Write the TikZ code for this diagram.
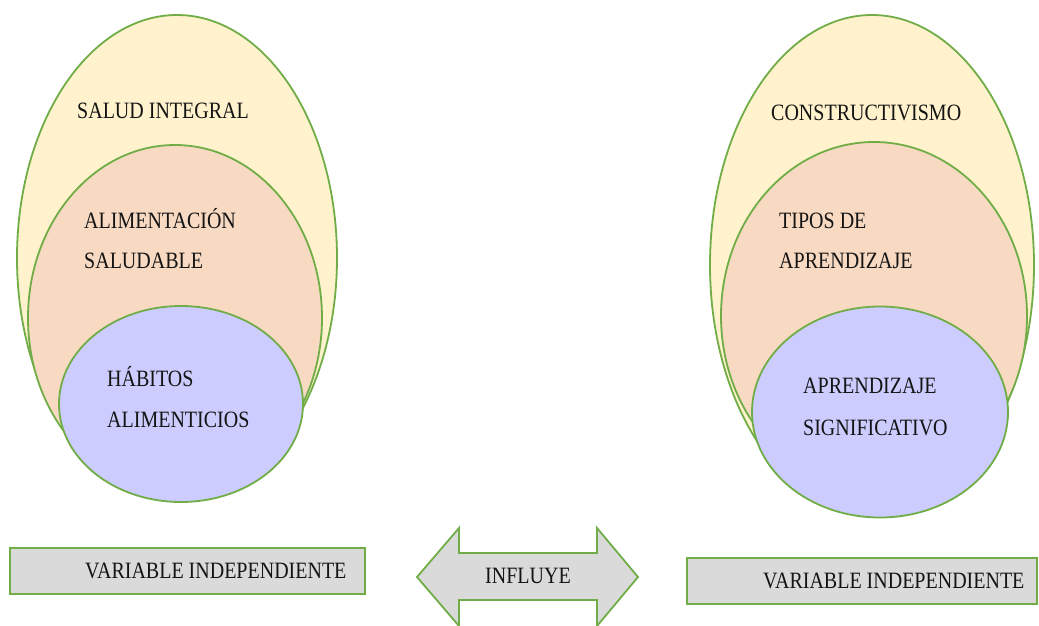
\documentclass[tikz,border=0pt]{standalone}
\usepackage{fontspec}
\setmainfont{Liberation Serif}
\usetikzlibrary{shapes.geometric}
\definecolor{outerfill}{HTML}{FFF2CC}
\definecolor{midfill}{HTML}{F8DAC3}
\definecolor{innerfill}{HTML}{CCCCFF}
\definecolor{edgegreen}{HTML}{70AD47}
\definecolor{boxfill}{HTML}{DADADA}
\newcommand{\tall}[1]{\scalebox{1}[1.17]{#1}}
\tikzset{
  ell/.style={ellipse, draw=edgegreen, line width=1.8pt, inner sep=0pt},
  lbl/.style={anchor=base west, inner sep=0pt, font=\fontsize{20}{24}\selectfont, text=black!92},
  varbox/.style={draw=edgegreen, line width=1.8pt, fill=boxfill},
}
\begin{document}
\begin{tikzpicture}[x=1pt,y=-1pt]
\useasboundingbox (0,0) rectangle (1039,626);
% left group
\node[ell, fill=outerfill, minimum width=320pt, minimum height=486pt] (lout) at (177,258) {};
\node[ell, fill=midfill, minimum width=294pt, minimum height=346pt] (lmid) at (175,318) {};
\node[ell, fill=innerfill, minimum width=244pt, minimum height=196pt] (lin) at (181,404) {};
\node[lbl] (t1) at (77,118) {\tall{SALUD INTEGRAL}};
\node[lbl] (t2) at (84,228) {\tall{ALIMENTACIÓN}};
\node[lbl] (t3) at (84,268) {\tall{SALUDABLE}};
\node[lbl] (t4) at (107,386) {\tall{HÁBITOS}};
\node[lbl] (t5) at (107,427) {\tall{ALIMENTICIOS}};
% right group
\node[ell, fill=outerfill, minimum width=324pt, minimum height=500pt] (rout) at (872,265) {};
\node[ell, fill=midfill, minimum width=306pt, minimum height=348pt] (rmid) at (874,316) {};
\node[ell, fill=innerfill, minimum width=256pt, minimum height=211pt] (rin) at (880,412) {};
\node[lbl] (u1) at (771,120) {\tall{CONSTRUCTIVISMO}};
\node[lbl] (u2) at (779,228) {\tall{TIPOS DE}};
\node[lbl] (u3) at (779,268) {\tall{APRENDIZAJE}};
\node[lbl] (u4) at (803,393) {\tall{APRENDIZAJE}};
\node[lbl] (u5) at (803,435) {\tall{SIGNIFICATIVO}};
% bottom boxes
\draw[varbox] (10,548) rectangle (365,594);
\node[lbl] (v1) at (85,578) {\tall{VARIABLE INDEPENDIENTE}};
\draw[varbox] (687,558) rectangle (1037,604);
\node[lbl] (v2) at (763,588) {\tall{VARIABLE INDEPENDIENTE}};
% double arrow
\draw[varbox, line join=miter]
  (417,577) -- (459,528) -- (459,553) -- (597,553) -- (597,528) -- (638,577)
  -- (597,626) -- (597,600) -- (459,600) -- (459,626) -- cycle;
\node[lbl] (inf) at (485,583) {\tall{INFLUYE}};
\end{tikzpicture}
\end{document}
